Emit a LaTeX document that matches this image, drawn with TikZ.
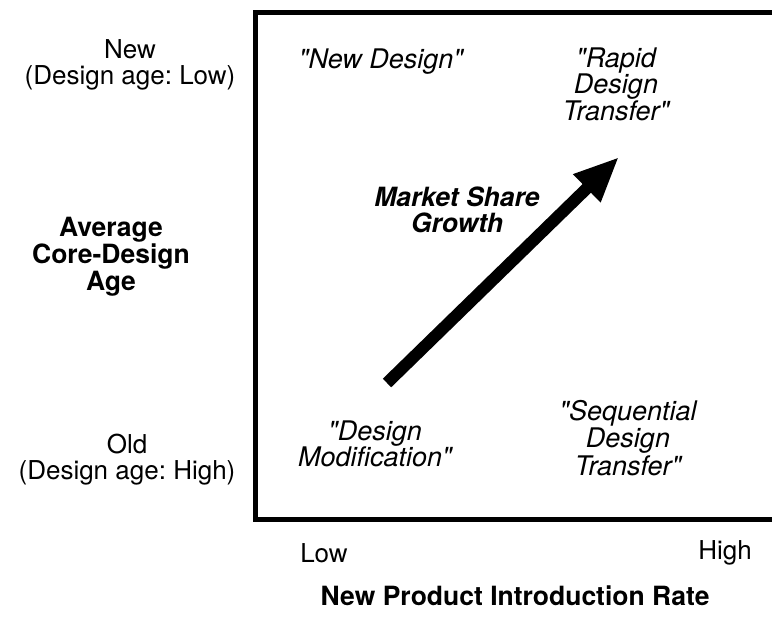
\documentclass[tikz,border=0pt]{standalone}
\usepackage{fontspec}
\setmainfont{TeX Gyre Heros}[Ligatures=TeXOff]
\usetikzlibrary{arrows.meta}
\frenchspacing
\tikzset{
  lbl/.style={align=center, inner sep=0pt, font=\fontsize{26}{26}\selectfont},
  axlbl/.style={align=center, inner sep=0pt, font=\fontsize{26.5}{27}\selectfont\bfseries},
  quad/.style={align=center, inner sep=0pt, font=\fontsize{27}{26.5}\selectfont\itshape},
  quadb/.style={align=center, inner sep=0pt, font=\fontsize{26.5}{26}\selectfont\bfseries\itshape},
  frame/.style={line width=5pt, line join=miter},
  bigarrow/.style={line width=12pt, -{Triangle[length=45pt, width=36pt]}}
}
\begin{document}
\begin{tikzpicture}[x=1pt, y=-1pt]
\useasboundingbox (0,0) rectangle (772,617);
% frame (open at right, cropped)
\draw[frame] (775,12.5) -- (255.5,12.5) -- (255.5,519.5) -- (775,519.5);
% vertical axis labels
\node[lbl] (new) at (130,65) {New\\(Design age: Low)};
\node[axlbl] (yaxis) at (111,257) {Average\\Core-Design\\Age};
\node[lbl] (old) at (127,460) {Old\\(Design age: High)};
% quadrant labels
\node[quad] (nd) at (381,62) {"New Design"};
\node[quad] (rdt) at (616,84) {"Rapid\\Design\\Transfer"};
\node[quad] (dm) at (375,444) {"Design\\Modification"};
\node[quad, font=\fontsize{27}{27.5}\selectfont\itshape] (sdt) at (628,438) {"Sequential\\Design\\Transfer"};
% arrow
\coordinate (tail) at (387,383);
\coordinate (tip) at (619,157);
\draw[bigarrow] (tail) -- (tip);
\node[quadb] (msg) at (457,210) {Market Share\\Growth};
% horizontal axis
\node[lbl] (low) at (324,553) {Low};
\node[lbl] (high) at (725,553) {High};
\node[axlbl] (xaxis) at (515,596) {New Product Introduction Rate};
\end{tikzpicture}
\end{document}
